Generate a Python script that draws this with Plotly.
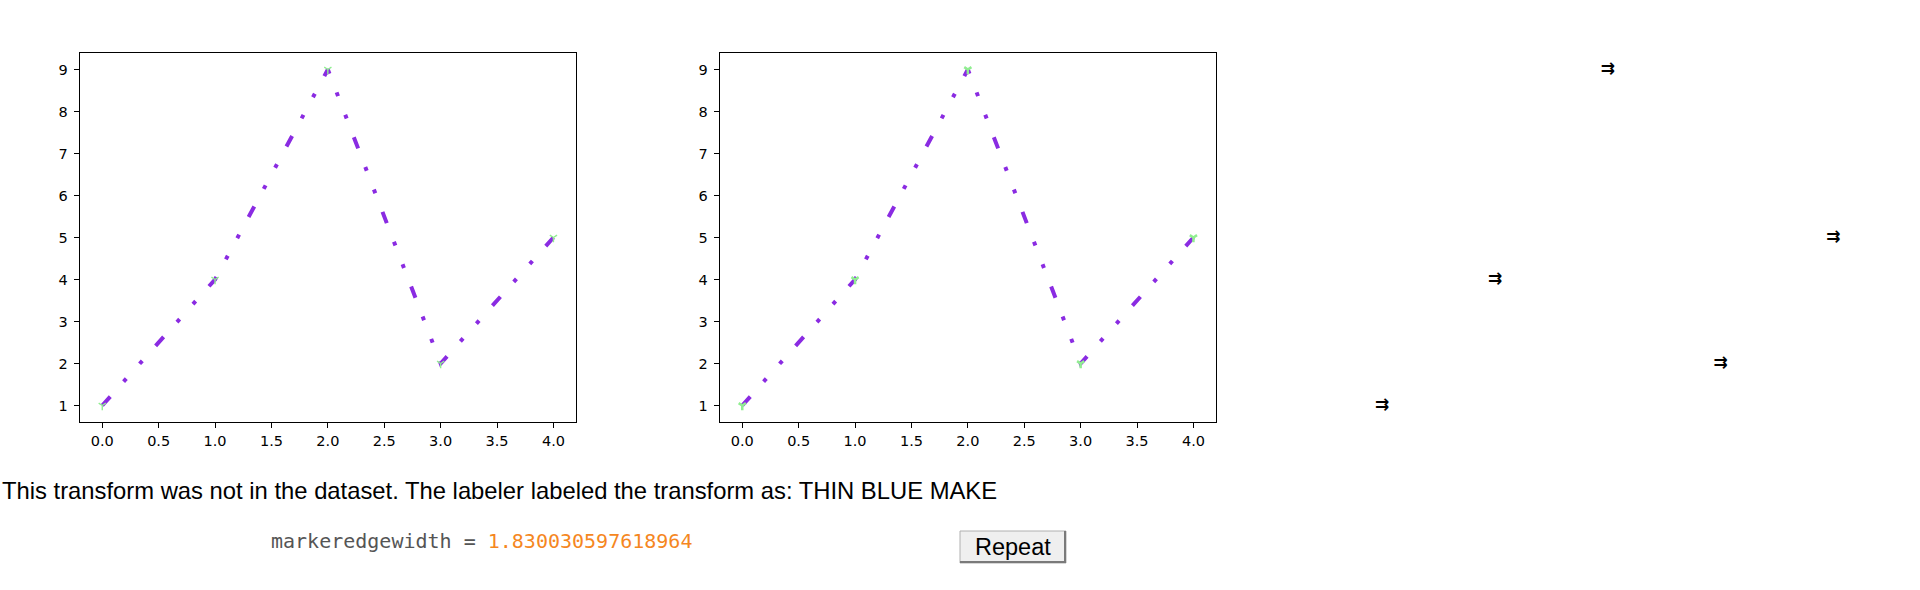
import plotly.graph_objects as go

# ---- data ----
x_vals = [0, 1, 2, 3, 4]
y_vals = [1, 4, 9, 2, 5]
x_ticks = [0, 0.5, 1, 1.5, 2, 2.5, 3, 3.5, 4]
y_ticks = [1, 2, 3, 4, 5, 6, 7, 8, 9]
caption = "This transform was not in the dataset. The labeler labeled the transform as: THIN BLUE MAKE"
param_name = "markeredgewidth"
param_value = "1.830030597618964"
button_label = "Repeat"

W, H = 1920, 590
LINE_COLOR = "#8a2be2"
MARK_COLOR = "#90ee90"
DASH = "12px,20px,4px,20px,4px,20px"

def px_x(v):
    return v / W

def px_y(v):
    return 1 - v / H

fig = go.Figure()

panel_left = [79.7, 719.7, 1359.7]
panel_right = [576.0, 1216.0, 1856.0]
top_px, bottom_px = 52.7, 422.3
edge_widths = [1.4, 2.5]

tick_font = dict(family="DejaVu Sans", size=14.5, color="black")

for i in range(3):
    xa = "x" if i == 0 else f"x{i+1}"
    ya = "y" if i == 0 else f"y{i+1}"
    if i < 2:
        fig.add_trace(go.Scatter(
            x=x_vals, y=y_vals, xaxis=xa, yaxis=ya, mode="lines+markers",
            line=dict(color=LINE_COLOR, width=4, dash=DASH),
            marker=dict(symbol="y-down", size=6, color=MARK_COLOR,
                        line=dict(color=MARK_COLOR, width=edge_widths[i])),
            showlegend=False, hoverinfo="skip"))
    else:
        fig.add_trace(go.Scatter(
            x=x_vals, y=y_vals, xaxis=xa, yaxis=ya, mode="text",
            text=["⇉"] * len(x_vals),
            textfont=dict(family="DejaVu Sans", size=17, color="black", weight="bold"),
            textposition="middle center",
            showlegend=False, hoverinfo="skip"))

    visible_axes = i < 2
    xkey = "xaxis" if i == 0 else f"xaxis{i+1}"
    ykey = "yaxis" if i == 0 else f"yaxis{i+1}"
    common = dict(showgrid=False, zeroline=False, fixedrange=True,
                  showline=visible_axes, mirror=visible_axes,
                  linecolor="black", linewidth=1,
                  ticks="outside" if visible_axes else "",
                  ticklen=5, tickwidth=1, tickcolor="black",
                  showticklabels=visible_axes, tickfont=tick_font)
    fig.update_layout(**{
        xkey: dict(domain=[px_x(panel_left[i]), px_x(panel_right[i])],
                   range=[-0.2, 4.2], tickvals=x_ticks,
                   ticktext=[f"{v:.1f}" for v in x_ticks],
                   anchor=ya, **common),
        ykey: dict(domain=[px_y(bottom_px), px_y(top_px)],
                   range=[0.6, 9.4], tickvals=y_ticks,
                   ticktext=[str(v) for v in y_ticks],
                   anchor=xa, ticklabelstandoff=3, **common),
    })

annotations = [
    dict(x=0, y=px_y(490), xref="paper", yref="paper", xanchor="left", yanchor="middle",
         text=caption, showarrow=False,
         font=dict(family="Liberation Sans", size=23.8, color="black")),
    dict(x=px_x(269), y=px_y(541), xref="paper", yref="paper", xanchor="left", yanchor="middle",
         text=f'<span style="color:#555555">{param_name} = </span>'
              f'<span style="color:#f5871f">{param_value}</span>',
         showarrow=False,
         font=dict(family="DejaVu Sans Mono", size=20, color="#555555")),
    dict(x=px_x(1013), y=px_y(547), xref="paper", yref="paper", xanchor="center", yanchor="middle",
         text=button_label, showarrow=False,
         font=dict(family="Liberation Sans", size=23.5, color="black")),
]

bx0, bx1, by0, by1 = 960, 1066, 531, 563
shapes = [
    dict(type="rect", xref="paper", yref="paper",
         x0=px_x(bx0), x1=px_x(bx1), y0=px_y(by1), y1=px_y(by0),
         fillcolor="#efefef", line=dict(color="#b0b0b0", width=1), layer="below"),
    dict(type="line", xref="paper", yref="paper",
         x0=px_x(bx1 - 1), x1=px_x(bx1 - 1), y0=px_y(by1), y1=px_y(by0),
         line=dict(color="#7a7a7a", width=2)),
    dict(type="line", xref="paper", yref="paper",
         x0=px_x(bx0), x1=px_x(bx1), y0=px_y(by1 - 1), y1=px_y(by1 - 1),
         line=dict(color="#7a7a7a", width=2)),
]

fig.update_layout(
    width=W, height=H, autosize=False,
    margin=dict(l=0, r=0, t=0, b=0),
    paper_bgcolor="white", plot_bgcolor="white",
    annotations=annotations, shapes=shapes,
)

fig.write_html("out.html", config={"displayModeBar": False},
               post_script="document.body.style.margin='0';document.body.style.overflow='hidden';")
